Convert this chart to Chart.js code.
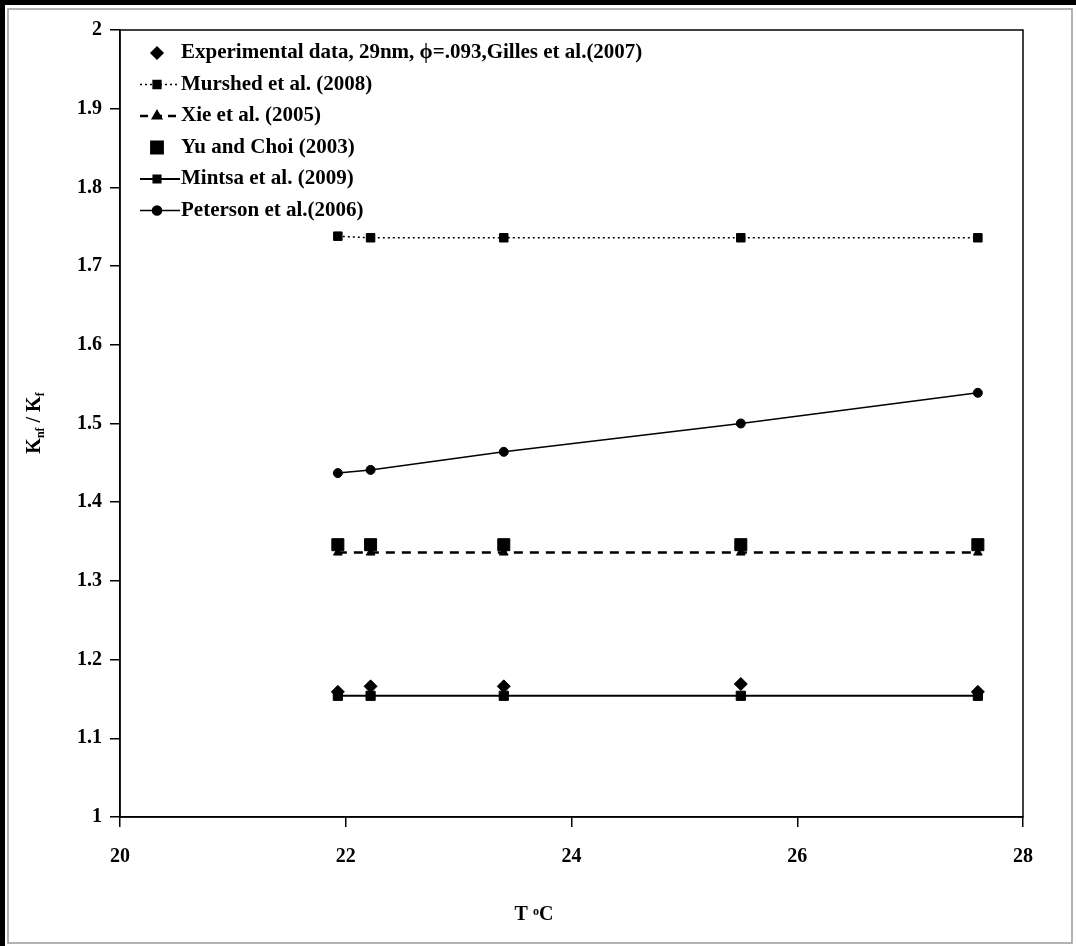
<!DOCTYPE html>
<html>
<head>
<meta charset="utf-8">
<script src="https://cdn.jsdelivr.net/npm/chart.js@4"></script>
<style>
body { margin: 0; background: #fff; }
</style>
</head>
<body>
<canvas id="kChart" width="1076" height="946"></canvas>
<script>
// Temperatures (deg C) and ratio values
const temps = [21.93, 22.22, 23.4, 25.5, 27.6];
const experimental = [1.159, 1.166, 1.166, 1.169, 1.159];
const murshed = [1.738, 1.736, 1.736, 1.736, 1.736];
const xie = [1.336, 1.336, 1.336, 1.336, 1.336];
const yuChoi = [1.346, 1.346, 1.346, 1.346, 1.346];
const mintsa = [1.154, 1.154, 1.154, 1.154, 1.154];
const peterson = [1.437, 1.441, 1.464, 1.500, 1.539];

const xTicks = [20, 22, 24, 26, 28];
const yTicks = [1, 1.1, 1.2, 1.3, 1.4, 1.5, 1.6, 1.7, 1.8, 1.9, 2];

const legendLabels = [
    'Experimental data, 29nm, \u03d5=.093,Gilles et al.(2007)',
    'Murshed et al. (2008)',
    'Xie et al. (2005)',
    'Yu and Choi (2003)',
    'Mintsa et al. (2009)',
    'Peterson et al.(2006)'
];

const FONT = '"Liberation Serif", "Times New Roman", serif';

function toPoints(values) {
    let pts = [];
    for (var i = 0; i < temps.length; i++) {
        pts.push({ x: temps[i], y: values[i] });
    }
    return pts;
}

function makeSet(label, values, style, radius, showLine, dash, lineWidth) {
    return {
        label: label,
        data: toPoints(values),
        showLine: showLine,
        borderColor: '#000',
        backgroundColor: '#000',
        borderWidth: lineWidth,
        borderDash: dash,
        pointStyle: style,
        pointRadius: radius,
        pointBorderWidth: 1,
        pointBackgroundColor: '#000',
        pointBorderColor: '#000',
        tension: 0
    };
}

let datasets = [
    makeSet(legendLabels[4], mintsa, 'rect', 6.5, true, [], 2),
    makeSet(legendLabels[2], xie, 'triangle', 5, true, [9, 7], 2.5),
    makeSet(legendLabels[3], yuChoi, 'rect', 8.5, false, [], 1),
    makeSet(legendLabels[5], peterson, 'circle', 4.5, true, [], 1.5),
    makeSet(legendLabels[1], murshed, 'rect', 6, true, [2, 3], 1.5),
    makeSet(legendLabels[0], experimental, 'rectRot', 6.5, false, [], 1)
];

// legend rows, same order as the picture
let legendRows = [
    { label: legendLabels[0], style: 'rectRot', radius: 6, line: false, dash: [] , lw: 1 },
    { label: legendLabels[1], style: 'rect', radius: 5.5, line: true, dash: [2, 3], lw: 1.5 },
    { label: legendLabels[2], style: 'triangle', radius: 4.5, line: true, dash: [8, 6], lw: 2.5 },
    { label: legendLabels[3], style: 'rect', radius: 8, line: false, dash: [], lw: 1 },
    { label: legendLabels[4], style: 'rect', radius: 5, line: true, dash: [], lw: 2 },
    { label: legendLabels[5], style: 'circle', radius: 4.5, line: true, dash: [], lw: 1.5 }
];

const framePlugin = {
    id: 'frame',
    beforeDraw(chart) {
        const ctx = chart.ctx;
        ctx.save();
        ctx.fillStyle = '#fff';
        ctx.fillRect(0, 0, chart.width, chart.height);
        // outer picture frame
        ctx.strokeStyle = '#000';
        ctx.lineWidth = 5;
        ctx.beginPath();
        ctx.moveTo(2.5, chart.height);
        ctx.lineTo(2.5, 2.5);
        ctx.lineTo(chart.width, 2.5);
        ctx.stroke();
        ctx.strokeStyle = '#999';
        ctx.lineWidth = 1.5;
        ctx.strokeRect(8, 9, chart.width - 12, chart.height - 12);
        ctx.restore();
    },
    afterDatasetsDraw(chart) {
        const ctx = chart.ctx;
        const a = chart.chartArea;
        ctx.save();
        // box round the plot area
        ctx.strokeStyle = '#000';
        ctx.lineWidth = 1.5;
        ctx.strokeRect(a.left, a.top, a.right - a.left, a.bottom - a.top);

        // legend in the upper left corner
        let y = a.top + 23;
        for (var i = 0; i < legendRows.length; i++) {
            let row = legendRows[i];
            if (row.line) {
                ctx.setLineDash(row.dash);
                ctx.lineWidth = row.lw;
                ctx.beginPath();
                ctx.moveTo(a.left + 20, y);
                ctx.lineTo(a.left + 60, y);
                ctx.stroke();
                ctx.setLineDash([]);
            }
            ctx.fillStyle = '#000';
            Chart.helpers.drawPoint(ctx, {
                pointStyle: row.style, radius: row.radius, rotation: 0, borderWidth: 1
            }, a.left + 37, y);
            ctx.fillStyle = '#000';
            ctx.font = 'bold 21px ' + FONT;
            ctx.textBaseline = 'middle';
            ctx.textAlign = 'left';
            ctx.fillText(row.label, a.left + 61, y);
            y += 31.5;
        }

        // axis titles with small sub/superscripts
        ctx.textBaseline = 'alphabetic';
        ctx.font = 'bold 20px ' + FONT;
        let w1 = ctx.measureText('T ').width;
        let w3 = ctx.measureText('C').width;
        ctx.font = 'bold 12px ' + FONT;
        let w2 = ctx.measureText('o').width;
        let tx = 534 - (w1 + w2 + w3) / 2;
        let ty = 920;
        ctx.font = 'bold 20px ' + FONT;
        ctx.fillText('T ', tx, ty);
        ctx.font = 'bold 12px ' + FONT;
        ctx.fillText('o', tx + w1, ty - 5);
        ctx.font = 'bold 20px ' + FONT;
        ctx.fillText('C', tx + w1 + w2, ty);

        ctx.translate(40, 423);
        ctx.rotate(-Math.PI / 2);
        let parts = [['K', 20, 0], ['nf', 12, 4], [' / K', 20, 0], ['f', 12, 4]];
        let total = 0;
        for (var j = 0; j < parts.length; j++) {
            ctx.font = 'bold ' + parts[j][1] + 'px ' + FONT;
            total += ctx.measureText(parts[j][0]).width;
        }
        let px = -total / 2;
        for (var j = 0; j < parts.length; j++) {
            ctx.font = 'bold ' + parts[j][1] + 'px ' + FONT;
            ctx.fillText(parts[j][0], px, parts[j][2]);
            px += ctx.measureText(parts[j][0]).width;
        }
        ctx.restore();
    }
};

const ctxEl = document.getElementById('kChart');

let config = {
    type: 'scatter',
    data: { datasets: datasets },
    options: {
        responsive: false,
        animation: false,
        devicePixelRatio: 1,
        layout: { padding: { top: 30, right: 53, left: 0, bottom: 0 } },
        plugins: {
            legend: { display: false },
            tooltip: { enabled: false }
        },
        scales: {
            x: {
                type: 'linear',
                min: 20,
                max: 28,
                afterBuildTicks: function (s) { s.ticks = xTicks.map(function (v) { return { value: v }; }); },
                afterFit: function (s) { s.height = 129; },
                ticks: {
                    color: '#000',
                    padding: 18,
                    font: { family: FONT, size: 20, weight: 'bold' }
                },
                grid: { drawOnChartArea: false, drawTicks: true, tickLength: 10, color: '#000', lineWidth: 1.5 },
                border: { color: '#000', width: 1.5 }
            },
            y: {
                type: 'linear',
                min: 1,
                max: 2,
                afterBuildTicks: function (s) { s.ticks = yTicks.map(function (v) { return { value: v }; }); },
                afterFit: function (s) { s.width = 120; },
                ticks: {
                    color: '#000',
                    padding: 8,
                    font: { family: FONT, size: 20, weight: 'bold' },
                    callback: function (v) { return String(Math.round(v * 10) / 10); }
                },
                grid: { drawOnChartArea: false, drawTicks: true, tickLength: 10, color: '#000', lineWidth: 1.5 },
                border: { color: '#000', width: 1.5 }
            }
        }
    },
    plugins: [framePlugin]
};

let chartObj = new Chart(ctxEl, config);
</script>
</body>
</html>
